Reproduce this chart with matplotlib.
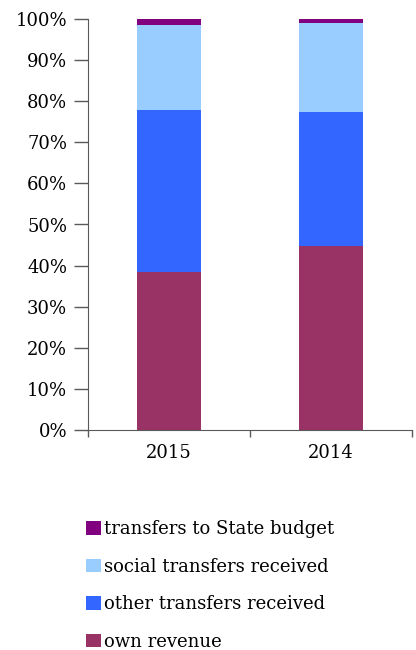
import numpy as np
import matplotlib
matplotlib.use('Agg')
import matplotlib.pyplot as plt
from matplotlib.ticker import PercentFormatter

years = ['2015', '2014']
own_revenue = [38.4, 44.8]
other_transfers = [39.5, 32.6]
social_transfers = [20.6, 21.6]
state_budget = [1.5, 1.0]

series = [
    ('own revenue', own_revenue, '#993366'),
    ('other transfers received', other_transfers, '#3366FF'),
    ('social transfers received', social_transfers, '#99CCFF'),
    ('transfers to State budget', state_budget, '#800080'),
]

plt.rcParams['font.family'] = ['DejaVu Serif']
plt.rcParams['font.size'] = 13

fig = plt.figure(figsize=(4.16, 6.5), dpi=100)
ax = fig.add_axes([88/416, 1-430/650, (412-88)/416, (430-19)/650])

x = np.arange(len(years))
bottom = np.zeros(len(years))
handles = []
for name, vals, col in series:
    b = ax.bar(x, vals, width=0.395, bottom=bottom, color=col, label=name)
    bottom += np.array(vals)
    handles.append(b)

ax.set_xlim(-0.5, 1.5)
ax.set_ylim(0, 100)
ax.set_yticks(np.arange(0, 101, 10))
ax.yaxis.set_major_formatter(PercentFormatter(decimals=0))
ax.set_xticks(x)
ax.set_xticklabels(years)
ax.set_xticks([-0.5, 0.5, 1.5], minor=True)
ax.tick_params(axis='x', which='major', length=0, pad=10)
ax.tick_params(axis='x', which='minor', length=5, width=1, color='#595959')
ax.tick_params(axis='y', length=10, width=1, color='#595959', pad=5)
for s in ['top', 'right']:
    ax.spines[s].set_visible(False)
for s in ['left', 'bottom']:
    ax.spines[s].set_color('#595959')

fig.legend(handles[::-1], [s[0] for s in series][::-1],
           loc='upper left', bbox_to_anchor=(70/416, 1-504/650),
           frameon=False, handlelength=0.8, handleheight=0.8,
           handletextpad=0.2, labelspacing=1.08, fontsize=13)

fig.savefig('out.png', dpi=100)
